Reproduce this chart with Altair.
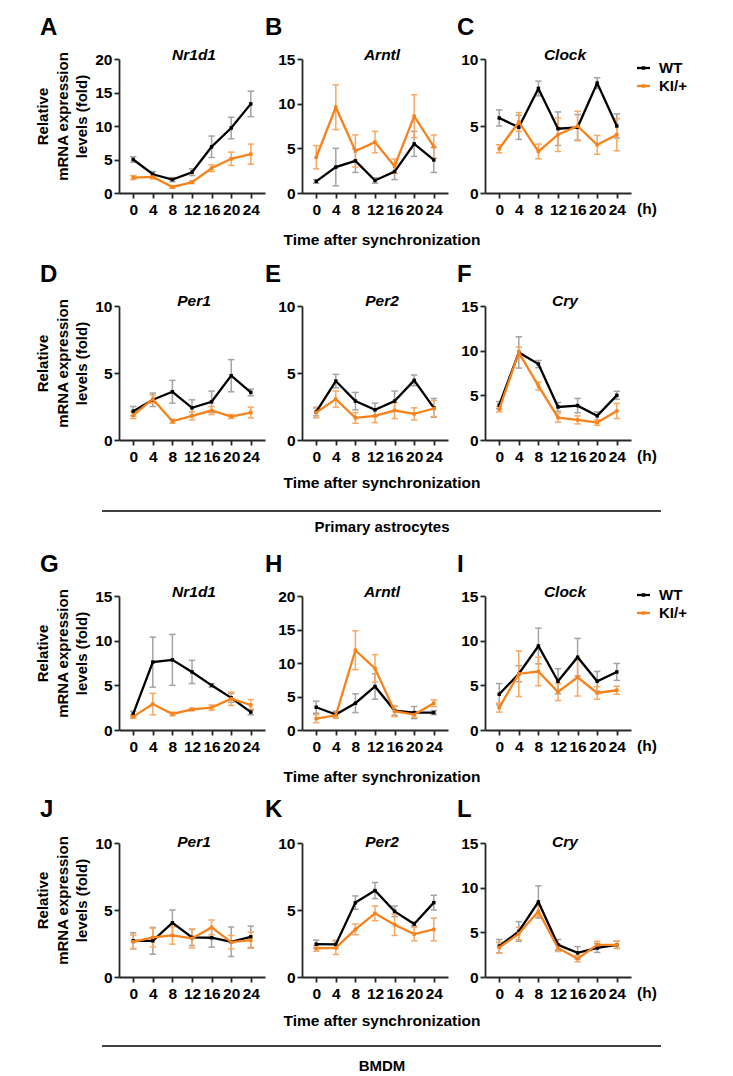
import altair as alt
import pandas as pd

FONT = "Liberation Sans"
times = [0, 4, 8, 12, 16, 20, 24]

# ---- Primary astrocytes ----
a_wt = [5.0, 2.8, 2.0, 3.1, 6.9, 9.7, 13.3]
a_wt_sd = [0.4, 0.4, 0.3, 0.5, 1.6, 1.6, 1.9]
a_ki = [2.3, 2.4, 0.9, 1.6, 3.7, 5.1, 5.8]
a_ki_sd = [0.3, 0.3, 0.2, 0.2, 0.5, 1.0, 1.5]

b_wt = [1.3, 2.9, 3.6, 1.4, 2.4, 5.5, 3.7]
b_wt_sd = [0.2, 2.1, 1.3, 0.3, 0.9, 1.4, 1.4]
b_ki = [4.0, 9.6, 4.7, 5.7, 3.0, 8.6, 5.2]
b_ki_sd = [1.3, 2.5, 1.8, 1.2, 0.8, 2.4, 1.3]

c_wt = [5.6, 4.9, 7.8, 4.8, 4.9, 8.2, 5.0]
c_wt_sd = [0.6, 0.9, 0.55, 1.25, 0.95, 0.4, 0.9]
c_ki = [3.3, 5.3, 3.1, 4.35, 5.0, 3.6, 4.35]
c_ki_sd = [0.3, 0.7, 0.55, 1.25, 1.1, 0.7, 1.2]

d_wt = [2.15, 3.0, 3.6, 2.4, 2.85, 4.8, 3.55]
d_wt_sd = [0.35, 0.5, 0.85, 0.6, 0.8, 1.2, 0.25]
d_ki = [1.85, 3.05, 1.4, 1.8, 2.2, 1.75, 2.05]
d_ki_sd = [0.25, 0.3, 0.15, 0.3, 0.3, 0.15, 0.4]

e_wt = [2.1, 4.4, 2.9, 2.25, 2.9, 4.45, 2.4]
e_wt_sd = [0.3, 0.5, 0.65, 0.5, 0.75, 0.4, 0.7]
e_ki = [2.05, 3.05, 1.65, 1.8, 2.2, 1.95, 2.35]
e_ki_sd = [0.4, 0.6, 0.4, 0.5, 0.6, 0.45, 0.6]

f_wt = [3.9, 9.8, 8.5, 3.7, 3.85, 2.7, 5.0]
f_wt_sd = [0.4, 1.75, 0.4, 0.5, 0.8, 0.45, 0.45]
f_ki = [3.45, 9.8, 6.05, 2.5, 2.25, 1.95, 3.25]
f_ki_sd = [0.3, 0.6, 0.45, 0.5, 0.45, 0.3, 0.85]

# ---- BMDM ----
g_wt = [1.8, 7.6, 7.85, 6.5, 5.0, 3.6, 2.0]
g_wt_sd = [0.3, 2.8, 2.85, 1.3, 0.2, 0.5, 0.3]
g_ki = [1.5, 2.9, 1.8, 2.3, 2.5, 3.5, 2.8]
g_ki_sd = [0.2, 1.2, 0.2, 0.15, 0.3, 0.75, 0.6]

h_wt = [3.4, 2.3, 4.0, 6.5, 2.9, 2.6, 2.6]
h_wt_sd = [0.9, 0.5, 1.4, 1.9, 0.7, 0.9, 0.3]
h_ki = [1.7, 2.2, 11.9, 9.2, 2.8, 2.3, 4.0]
h_ki_sd = [0.6, 0.4, 2.9, 2.05, 0.8, 0.4, 0.5]

i_wt = [4.0, 6.3, 9.4, 5.45, 8.15, 5.45, 6.5]
i_wt_sd = [1.2, 0.9, 2.0, 1.4, 2.1, 1.1, 0.95]
i_ki = [2.5, 6.3, 6.55, 4.25, 5.9, 4.15, 4.45]
i_ki_sd = [0.5, 2.55, 1.6, 0.95, 2.1, 0.7, 0.45]

j_wt = [2.7, 2.7, 4.05, 2.95, 2.93, 2.63, 3.0]
j_wt_sd = [0.6, 1.0, 0.95, 0.6, 0.7, 1.1, 0.8]
j_ki = [2.63, 2.95, 3.1, 2.88, 3.7, 2.6, 2.75]
j_ki_sd = [0.5, 0.7, 0.65, 0.7, 0.55, 0.5, 0.6]

k_wt = [2.45, 2.43, 5.55, 6.45, 4.9, 3.95, 5.55]
k_wt_sd = [0.3, 0.3, 0.5, 0.6, 0.4, 0.15, 0.55]
k_ki = [2.13, 2.18, 3.55, 4.75, 3.9, 3.2, 3.55]
k_ki_sd = [0.2, 0.5, 0.4, 0.55, 0.8, 0.5, 0.85]

l_wt = [3.45, 5.1, 8.4, 3.6, 2.7, 3.25, 3.6]
l_wt_sd = [0.75, 1.1, 1.8, 0.6, 0.7, 0.5, 0.4]
l_ki = [3.3, 4.85, 7.35, 3.25, 2.05, 3.6, 3.6]
l_ki_sd = [0.6, 0.7, 0.55, 0.4, 0.35, 0.4, 0.4]

letters = list("ABCDEFGHIJKL")
genes = ["Nr1d1", "Arntl", "Clock", "Per1", "Per2", "Cry",
         "Nr1d1", "Arntl", "Clock", "Per1", "Per2", "Cry"]
ymaxes = [20, 15, 10, 10, 10, 15, 15, 20, 15, 10, 10, 15]
series = [
    (a_wt, a_wt_sd, a_ki, a_ki_sd), (b_wt, b_wt_sd, b_ki, b_ki_sd),
    (c_wt, c_wt_sd, c_ki, c_ki_sd), (d_wt, d_wt_sd, d_ki, d_ki_sd),
    (e_wt, e_wt_sd, e_ki, e_ki_sd), (f_wt, f_wt_sd, f_ki, f_ki_sd),
    (g_wt, g_wt_sd, g_ki, g_ki_sd), (h_wt, h_wt_sd, h_ki, h_ki_sd),
    (i_wt, i_wt_sd, i_ki, i_ki_sd), (j_wt, j_wt_sd, j_ki, j_ki_sd),
    (k_wt, k_wt_sd, k_ki, k_ki_sd), (l_wt, l_wt_sd, l_ki, l_ki_sd),
]
y_title = ["Relative", "mRNA expression", "levels (fold)"]
x_label = "Time after synchronization"
group_labels = {1: "Primary astrocytes", 3: "BMDM"}
legend_labels = ["WT", "KI/+"]

WT_LINE, WT_ERR = "#000000", "#a3a3a3"
KI_LINE, KI_ERR = "#f7821b", "#f9a862"

W = 146
H = 134
TALL_EXTRA = 43
one = pd.DataFrame({"z": [0]})

# per-row annotation offsets (relative to each view's top-left)
row_top = [0, 0, TALL_EXTRA, 0]
letter_y = [-24, -24, 19, -26]
letter_x = [-79, -37, -28]
title_y = [1, 0, 44, 4]
title_x = [75, 80, 80]
time_y = [181, 177, 224, 178]
line_y = {1: 205, 3: 203}
group_y = {1: 221, 3: 223}
legend_y = {0: (9, 27), 2: (42, 60)}


def txt(text, x, y, size=15, align="center", baseline="middle", style="normal"):
    return alt.Chart(one).mark_text(
        text=text, font=FONT, fontSize=size, fontWeight="bold", fontStyle=style,
        align=align, baseline=baseline, color="black"
    ).encode(x=alt.value(x), y=alt.value(y))


def make_panel(k):
    row, col = divmod(k, 3)
    wt, wt_sd, ki, ki_sd = series[k]
    ymax = ymaxes[k]
    top = row_top[row]
    h = H + top
    df = pd.DataFrame({
        "t": times * 2,
        "geno": [legend_labels[0]] * 7 + [legend_labels[1]] * 7,
        "mean": wt + ki,
        "sd": wt_sd + ki_sd,
    })
    df["lo"] = df["mean"] - df["sd"]
    df["hi"] = df["mean"] + df["sd"]
    df["c0"] = df["t"] - 0.65
    df["c1"] = df["t"] + 0.65

    xscale = alt.Scale(domain=[-2.9, 26.9], nice=False, zero=False)
    xaxis = alt.Axis(values=times, title=None, labelOverlap=False, labelFlush=False, format="d")
    yscale = alt.Scale(domain=[0, ymax], nice=False, zero=True, range=[h, top])
    if col == 0:
        yaxis = alt.Axis(values=list(range(0, ymax + 1, 5)), title=y_title, titleY=top + 57,
                         labelOverlap=False, labelFlush=False, format="d")
    else:
        yaxis = alt.Axis(values=list(range(0, ymax + 1, 5)), title=None,
                         labelOverlap=False, labelFlush=False, format="d")

    def X(f):
        return alt.X(f + ":Q", scale=xscale, axis=xaxis)

    def Y(f):
        return alt.Y(f + ":Q", scale=yscale, axis=yaxis)

    base = alt.Chart(df)
    layers = []
    for g, lc, ec in [(legend_labels[0], WT_LINE, WT_ERR), (legend_labels[1], KI_LINE, KI_ERR)]:
        b = base.transform_filter(alt.datum.geno == g)
        layers.append(b.mark_rule(color=ec, strokeWidth=1.5).encode(x=X("t"), y=Y("lo"), y2="hi:Q"))
        layers.append(b.mark_rule(color=ec, strokeWidth=1.5).encode(x=X("c0"), x2="c1:Q", y=Y("lo")))
        layers.append(b.mark_rule(color=ec, strokeWidth=1.5).encode(x=X("c0"), x2="c1:Q", y=Y("hi")))
    for g, lc in [(legend_labels[0], WT_LINE), (legend_labels[1], KI_LINE)]:
        b = base.transform_filter(alt.datum.geno == g)
        layers.append(b.mark_line(color=lc, strokeWidth=2.3).encode(x=X("t"), y=Y("mean")))
        layers.append(b.mark_square(color=lc, size=12, opacity=1).encode(x=X("t"), y=Y("mean")))

    # panel letter and gene title
    layers.append(txt(letters[k], letter_x[col], letter_y[row], size=24, align="left",
                      baseline="alphabetic"))
    layers.append(txt(genes[k], title_x[col], title_y[row], size=15.5, baseline="alphabetic",
                      style="italic"))
    if col == 2:
        layers.append(txt("(h)", 162, h + 16, size=15.5))
    if col == 1:
        layers.append(txt(x_label, 80, time_y[row], size=15.5))
        if row in group_labels:
            layers.append(alt.Chart(one).mark_rule(color="black", strokeWidth=1.6).encode(
                x=alt.value(-200), x2=alt.value(359), y=alt.value(line_y[row])))
            layers.append(txt(group_labels[row], 80, group_y[row], size=15))
    if col == 2 and row in legend_y:
        for lab, yy, lc in zip(legend_labels, legend_y[row], [WT_LINE, KI_LINE]):
            layers.append(alt.Chart(one).mark_rule(color=lc, strokeWidth=2.3).encode(
                x=alt.value(152), x2=alt.value(165), y=alt.value(yy)))
            layers.append(alt.Chart(one).mark_square(color=lc, size=12, opacity=1).encode(
                x=alt.value(158.5), y=alt.value(yy)))
            layers.append(txt(lab, 174, yy, size=15, align="left"))

    return alt.layer(*layers).properties(width=W, height=h)


panels = [make_panel(k) for k in range(12)]

chart = alt.concat(
    *panels, columns=3, spacing={"row": 113, "column": 37}, bounds="flush"
).properties(
    padding={"left": 27, "top": 8, "right": 5, "bottom": 0}
).configure(
    font=FONT
).configure_view(
    stroke=None
).configure_axis(
    grid=False,
    domainColor="#262626", domainWidth=1.8,
    tickColor="#262626", tickWidth=1.8, tickSize=5,
    labelFont=FONT, labelFontSize=15.5, labelFontWeight="bold", labelColor="black",
    titleFont=FONT, titleFontSize=15, titleFontWeight="bold", titleColor="black",
    titleLineHeight=19.5, titlePadding=5,
).configure_axisX(
    labelPadding=4
).configure_axisY(
    labelPadding=2
)

chart.save("out.html", embed_options={"renderer": "svg", "actions": False})
